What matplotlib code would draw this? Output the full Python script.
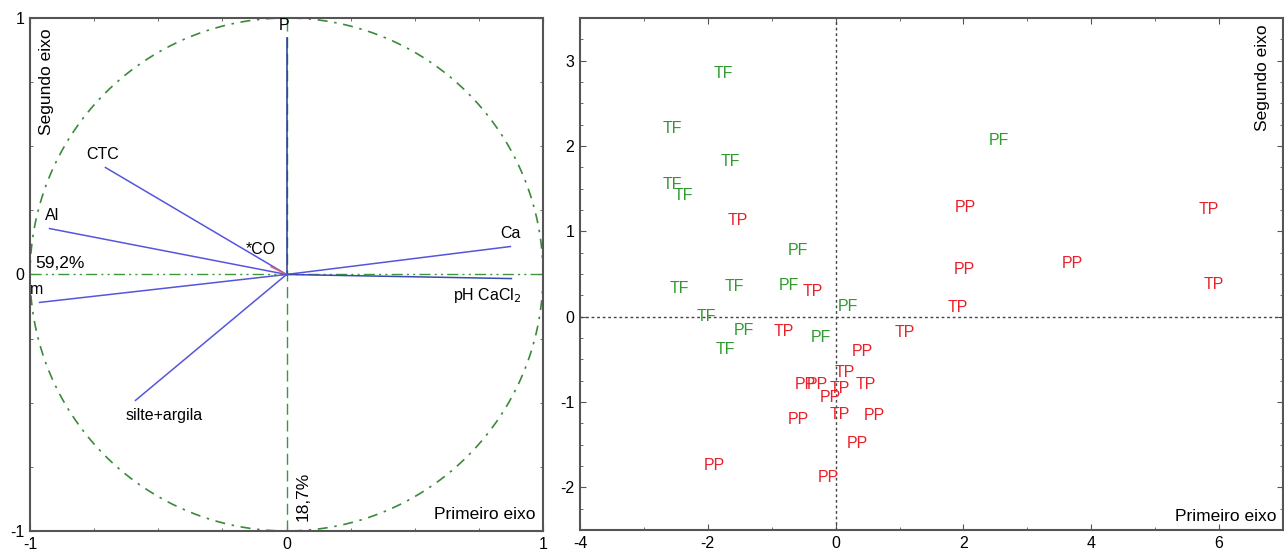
import numpy as np
import matplotlib
matplotlib.use("Agg")
import matplotlib.pyplot as plt
from matplotlib.ticker import MultipleLocator

plt.rcParams['font.family'] = ['Liberation Sans', 'DejaVu Sans']
plt.rcParams['axes.unicode_minus'] = False

# loadings (left panel)
var_names = ['P', 'CTC', 'Al', '*CO', 'Ca', 'pH CaCl$_2$', 'm', 'silte+argila']
var_x = [0.0, -0.706, -0.924, -0.06, 0.873, 0.877, -0.963, -0.589]
var_y = [0.92, 0.417, 0.179, 0.03, 0.109, -0.016, -0.109, -0.491]
var_colors = ['#2a3a9a', '#5555dd', '#5555dd', '#e06070', '#5555dd', '#3a4ab0', '#5555dd', '#5555dd']

# scores (right panel)
green_lab = ['TF', 'TF', 'TF', 'TF', 'TF', 'PF', 'TF', 'TF', 'PF', 'PF', 'TF', 'PF', 'TF', 'PF', 'PF']
green_x = [-1.75, -2.56, -1.64, -2.55, -2.38, -0.59, -2.45, -1.58, -0.73, 0.19, -2.03, -1.44, -1.73, -0.23, 2.56]
green_y = [2.85, 2.20, 1.82, 1.55, 1.42, 0.78, 0.33, 0.35, 0.36, 0.12, 0.00, -0.16, -0.38, -0.24, 2.06]

red_lab = ['TP', 'PP', 'TP', 'PP', 'PP', 'TP', 'TP', 'TP', 'TP', 'TP', 'PP', 'TP', 'PP', 'PP',
           'TP', 'TP', 'PP', 'TP', 'PP', 'PP', 'PP', 'PP', 'PP']
red_x = [-1.53, 2.03, 5.84, 2.02, 3.70, 5.91, 1.91, -0.36, -0.81, 1.08, 0.42, 0.14, -0.47, -0.28,
         0.06, 0.48, -0.08, 0.06, -0.58, 0.61, 0.34, -1.89, -0.12]
red_y = [1.13, 1.28, 1.26, 0.55, 0.62, 0.38, 0.11, 0.29, -0.18, -0.19, -0.41, -0.66, -0.80, -0.79,
         -0.84, -0.79, -0.95, -1.15, -1.20, -1.16, -1.49, -1.74, -1.89]

green = '#2e9a2e'
red = '#e8202a'
frame = '#555555'
lab_fs = 11.5
title_fs = 12.5

fig = plt.figure(figsize=(12.84, 5.56), dpi=100)
ax1 = fig.add_axes([0.0234, 0.045, 0.3995, 0.9227])
ax2 = fig.add_axes([0.4517, 0.0468, 0.5475, 0.921])

# ---- left: correlation circle
t = np.linspace(0, 2 * np.pi, 400)
ax1.plot(np.cos(t), np.sin(t), color='#3a8a3a', lw=1.2, ls=(0, (6, 4, 1.5, 4)))
ax1.axhline(0, color='#3a9a3a', lw=1.0, ls=(0, (8, 3, 1.5, 3, 1.5, 3)))
ax1.axvline(0, color='#3a9a3a', lw=1.0, ls=(0, (8, 4)))
for x, y, c in zip(var_x, var_y, var_colors):
    ax1.plot([0, x], [0, y], color=c, lw=1.1)

ax1.text(var_x[0] - 0.01, var_y[0] + 0.02, var_names[0], ha='center', va='bottom', fontsize=lab_fs)
ax1.text(var_x[1] - 0.01, var_y[1] + 0.02, var_names[1], ha='center', va='bottom', fontsize=lab_fs)
ax1.text(var_x[2] + 0.01, var_y[2] + 0.02, var_names[2], ha='center', va='bottom', fontsize=lab_fs)
ax1.text(var_x[3] - 0.04, var_y[3] + 0.04, var_names[3], ha='center', va='bottom', fontsize=lab_fs)
ax1.text(var_x[4], var_y[4] + 0.02, var_names[4], ha='center', va='bottom', fontsize=lab_fs)
ax1.text(var_x[5] + 0.04, var_y[5] - 0.03, var_names[5], ha='right', va='top', fontsize=lab_fs)
ax1.text(var_x[6] - 0.01, var_y[6] + 0.02, var_names[6], ha='center', va='bottom', fontsize=lab_fs)
ax1.text(var_x[7] + 0.11, var_y[7] - 0.03, var_names[7], ha='center', va='top', fontsize=lab_fs)

ax1.text(-0.98, 0.015, '59,2%', ha='left', va='bottom', fontsize=title_fs)
ax1.text(0.035, -0.96, '18,7%', ha='left', va='bottom', rotation=90, fontsize=title_fs)
ax1.text(-0.935, 0.96, 'Segundo eixo', ha='center', va='top', rotation=90, fontsize=title_fs)
ax1.text(0.97, -0.965, 'Primeiro eixo', ha='right', va='bottom', fontsize=title_fs)

ax1.set_xlim(-1, 1)
ax1.set_ylim(-1, 1)
ax1.set_xticks([-1, 0, 1])
ax1.set_yticks([-1, 0, 1])
ax1.xaxis.set_minor_locator(MultipleLocator(0.25))
ax1.yaxis.set_minor_locator(MultipleLocator(0.25))

# ---- right: scores
ax2.axhline(0, color='#444444', lw=1.0, ls=(0, (2, 2)))
ax2.axvline(0, color='#444444', lw=1.0, ls=(0, (2, 2)))
for lab, x, y in zip(green_lab, green_x, green_y):
    ax2.text(x, y, lab, color=green, ha='center', va='center', fontsize=lab_fs)
for lab, x, y in zip(red_lab, red_x, red_y):
    ax2.text(x, y, lab, color=red, ha='center', va='center', fontsize=lab_fs)

ax2.text(6.68, 3.42, 'Segundo eixo', ha='center', va='top', rotation=90, fontsize=title_fs)
ax2.text(6.9, -2.43, 'Primeiro eixo', ha='right', va='bottom', fontsize=title_fs)

ax2.set_xlim(-4, 7)
ax2.set_ylim(-2.5, 3.5)
ax2.set_xticks([-4, -2, 0, 2, 4, 6])
ax2.set_yticks([-2, -1, 0, 1, 2, 3])
ax2.xaxis.set_minor_locator(MultipleLocator(1))
ax2.yaxis.set_minor_locator(MultipleLocator(0.25))

for ax in (ax1, ax2):
    for s in ax.spines.values():
        s.set_color(frame)
        s.set_linewidth(1.5)
    ax.tick_params(which='both', direction='in', top=True, right=True, color=frame,
                   labelsize=11.5, pad=4)
    ax.tick_params(which='major', length=4)
    ax.tick_params(which='minor', length=2.5)

fig.savefig('out.png', dpi=100)
